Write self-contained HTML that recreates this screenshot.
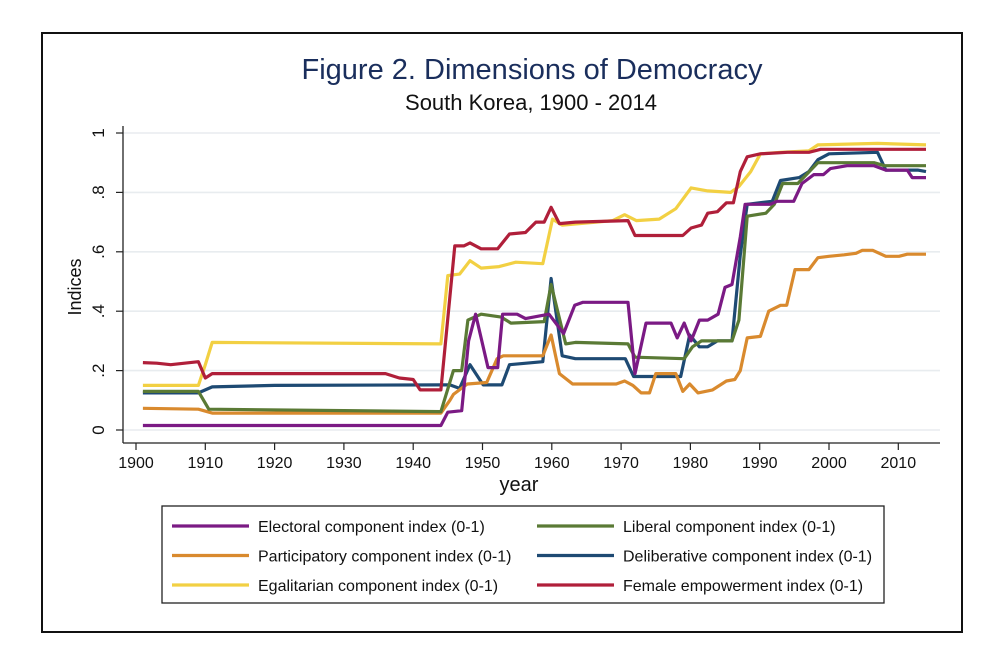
<!DOCTYPE html>
<html><head><meta charset="utf-8"><style>
html,body{margin:0;padding:0;background:#fff;}
svg{display:block;font-family:"Liberation Sans",Arial,sans-serif;}
</style></head><body>
<svg id="chart" width="1000" height="659" viewBox="0 0 1000 659">
<rect x="42" y="33" width="920" height="599" fill="#fff" stroke="#111" stroke-width="2"/>
<text x="532" y="79" text-anchor="middle" font-size="29" fill="#1a2e5c">Figure 2. Dimensions of Democracy</text>
<text x="531" y="110" text-anchor="middle" font-size="22" fill="#111">South Korea, 1900 - 2014</text>
<g id="grid"></g>
<g id="series"></g>
<g id="axes"></g>
<text x="0" y="0" transform="translate(81,287) rotate(-90)" text-anchor="middle" font-size="18" fill="#111">Indices</text>
<text x="519" y="491" text-anchor="middle" font-size="20" fill="#111">year</text>
<g>
<rect x="162" y="506" width="722" height="97" fill="#fff" stroke="#222" stroke-width="1.3"/>
<g id="legend-items"></g>
</g>
</svg>
<script>
const yTicks = [0, 0.2, 0.4, 0.6, 0.8, 1];
const yTickLabels = ["0", ".2", ".4", ".6", ".8", "1"];
const xTicks = [1900, 1910, 1920, 1930, 1940, 1950, 1960, 1970, 1980, 1990, 2000, 2010];
const seriesNames = ["Electoral component index (0-1)", "Liberal component index (0-1)", "Participatory component index (0-1)", "Deliberative component index (0-1)", "Egalitarian component index (0-1)", "Female empowerment index (0-1)"];
const seriesColors = ["#7b1a84", "#5a7a35", "#d98a2e", "#1e4a73", "#f2d043", "#b01f3a"];

const electoralYears = [1901,1944,1945,1947,1948,1949,1950.8,1952.2,1952.9,1955,1956.2,1959.6,1961.7,1963.3,1964.5,1971,1972,1973.6,1977.2,1978.1,1979.1,1980.1,1981.3,1982.5,1984,1985,1986,1987.2,1987.9,1991.5,1992.5,1994.9,1996.1,1997.8,1999.2,2000.2,2002.6,2006.5,2008.2,2011.3,2012,2014];
const electoralVals = [0.015,0.015,0.06,0.065,0.3,0.39,0.21,0.21,0.39,0.39,0.375,0.39,0.325,0.42,0.43,0.43,0.19,0.36,0.36,0.31,0.36,0.30,0.37,0.37,0.39,0.48,0.49,0.65,0.76,0.76,0.77,0.77,0.83,0.86,0.86,0.88,0.89,0.89,0.875,0.875,0.85,0.85];

const liberalYears = [1901,1909,1910.5,1944,1945.8,1947,1947.9,1949.8,1952.7,1954.1,1958.9,1959.9,1962,1963.4,1971,1972,1979.1,1980.3,1981.6,1986,1987,1988.2,1990.9,1992.1,1993.3,1995.5,1998.4,2006.5,2008,2014];
const liberalVals = [0.13,0.13,0.07,0.062,0.2,0.2,0.37,0.39,0.38,0.36,0.365,0.49,0.29,0.295,0.29,0.245,0.24,0.28,0.30,0.30,0.37,0.72,0.73,0.76,0.83,0.83,0.90,0.90,0.89,0.89];

const partYears = [1901,1909,1911,1944,1945.3,1945.8,1947.8,1950.6,1952.1,1953,1958.7,1959.9,1961.1,1963,1969.3,1970.5,1971.7,1972.9,1974.1,1975,1977.9,1978.9,1979.9,1981.1,1983.2,1985.2,1986.4,1987.2,1988.2,1990.1,1991.3,1993,1993.9,1995.1,1997.1,1998.4,2000,2002.2,2003.9,2004.8,2006.3,2008.2,2010.1,2011.3,2014];
const partVals = [0.073,0.07,0.057,0.057,0.10,0.12,0.155,0.16,0.24,0.25,0.25,0.32,0.19,0.155,0.155,0.165,0.15,0.125,0.125,0.19,0.19,0.13,0.155,0.125,0.135,0.165,0.17,0.2,0.31,0.315,0.40,0.42,0.42,0.54,0.54,0.58,0.585,0.59,0.595,0.605,0.605,0.585,0.585,0.592,0.592];

const delibYears = [1901,1909,1911,1920,1944,1945.3,1946.7,1948.2,1950.1,1952.8,1953.9,1958.7,1959.9,1961.5,1963.4,1970.6,1971.8,1978.6,1979.9,1981.3,1982.5,1983.9,1986,1987.2,1988.2,1991.8,1993,1995.7,1997.1,1998.4,2000,2007,2008.2,2012.8,2014];
const delibVals = [0.125,0.125,0.145,0.15,0.152,0.152,0.14,0.22,0.152,0.152,0.22,0.23,0.51,0.25,0.24,0.24,0.18,0.18,0.32,0.28,0.28,0.30,0.30,0.59,0.76,0.77,0.84,0.85,0.87,0.91,0.93,0.935,0.875,0.875,0.87];

const egalYears = [1901,1909,1910,1911,1944,1945,1946.7,1948.2,1949.8,1952.4,1954.8,1958.7,1960.1,1961.5,1968.8,1970.5,1972.2,1975.5,1977.9,1980.1,1982.5,1985.8,1987,1988.7,1990.1,1993,1997.1,1998.4,2007,2014];
const egalVals = [0.15,0.15,0.22,0.295,0.29,0.52,0.525,0.57,0.545,0.55,0.565,0.56,0.71,0.69,0.705,0.725,0.705,0.71,0.745,0.815,0.805,0.80,0.82,0.87,0.93,0.935,0.94,0.96,0.965,0.96];

const femaleYears = [1901,1903,1905,1907,1909,1910,1911,1936,1938,1940,1941,1944,1946,1947.3,1948.2,1949.8,1952.2,1953.9,1956.2,1957.7,1958.9,1959.9,1961.1,1963.4,1971,1972,1978.9,1980.1,1981.6,1982.5,1983.9,1985.2,1986.2,1987.2,1988.2,1990.1,1994,1997.1,1998.8,2014];
const femaleVals = [0.227,0.225,0.22,0.225,0.23,0.175,0.19,0.19,0.175,0.17,0.135,0.135,0.62,0.62,0.63,0.61,0.61,0.66,0.665,0.70,0.70,0.75,0.695,0.70,0.705,0.655,0.655,0.68,0.69,0.73,0.735,0.765,0.765,0.87,0.92,0.93,0.935,0.935,0.945,0.945];

const seriesYears = [electoralYears, partYears, egalYears, liberalYears, delibYears, femaleYears];
const seriesValues = [electoralVals, partVals, egalVals, liberalVals, delibVals, femaleVals];
const seriesIdx = [0, 2, 4, 1, 3, 5];

const NS = "http://www.w3.org/2000/svg";
const X0 = 136, XPER = 6.93, Y0 = 430, YSPAN = 297;
function xs(yr){ return X0 + (yr - 1900) * XPER; }
function ys(v){ return Y0 - v * YSPAN; }
function mk(tag, attrs, parent){ const e = document.createElementNS(NS, tag); for (const k in attrs) e.setAttribute(k, attrs[k]); parent.appendChild(e); return e; }

const grid = document.getElementById("grid");
const axes = document.getElementById("axes");
yTicks.forEach((t, i) => {
  const g = mk("line", {x1: 123, x2: 940, y1: ys(t), y2: ys(t), stroke: "#e8ecef", "stroke-width": 1.6}, grid);
  
  
  const tk = mk("line", {x1: 116, x2: 123, y1: ys(t), y2: ys(t), stroke: "#222", "stroke-width": 1.2}, axes);
  
  
  const lb = mk("text", {transform: "translate(104," + ys(t) + ") rotate(-90)", "text-anchor": "middle", "font-size": 17, fill: "#111"}, axes);
  lb.textContent = yTickLabels[i];
  
  
});
const yax = mk("line", {x1: 123, x2: 123, y1: 126, y2: 443, stroke: "#222", "stroke-width": 1.3}, axes);


const xax = mk("line", {x1: 123, x2: 940, y1: 443, y2: 443, stroke: "#222", "stroke-width": 1.3}, axes);


xTicks.forEach(t => {
  const tk = mk("line", {x1: xs(t), x2: xs(t), y1: 443, y2: 450, stroke: "#222", "stroke-width": 1.2}, axes);
  
  
  const lb = mk("text", {x: xs(t), y: 468, "text-anchor": "middle", "font-size": 16, fill: "#111"}, axes);
  lb.textContent = t;
  
  
});

const sg = document.getElementById("series");
const drawOrder = [4, 2, 1, 3, 0, 5];
drawOrder.forEach(k => {
  const yrs = seriesYears[k], vals = seriesValues[k];
  const si = seriesIdx[k];
  const pts = yrs.map((y, i) => xs(y).toFixed(1) + "," + ys(vals[i]).toFixed(1)).join(" ");
  const pl = mk("polyline", {points: pts, fill: "none", stroke: seriesColors[si], "stroke-width": 3.2, "stroke-linejoin": "round"}, sg);
  
  
});

const lg = document.getElementById("legend-items");
seriesNames.forEach((n, i) => {
  const col = i % 2, row = Math.floor(i / 2);
  const x = col === 0 ? 172 : 537, y = 526 + row * 29.5;
  const ln = mk("line", {x1: x, x2: x + 77, y1: y, y2: y, stroke: seriesColors[i], "stroke-width": 3.2}, lg);
  
  
  const tx = mk("text", {x: x + 86, y: y + 6, "font-size": 16, fill: "#111"}, lg);
  tx.textContent = n;
  
  
});
</script>
</body></html>
